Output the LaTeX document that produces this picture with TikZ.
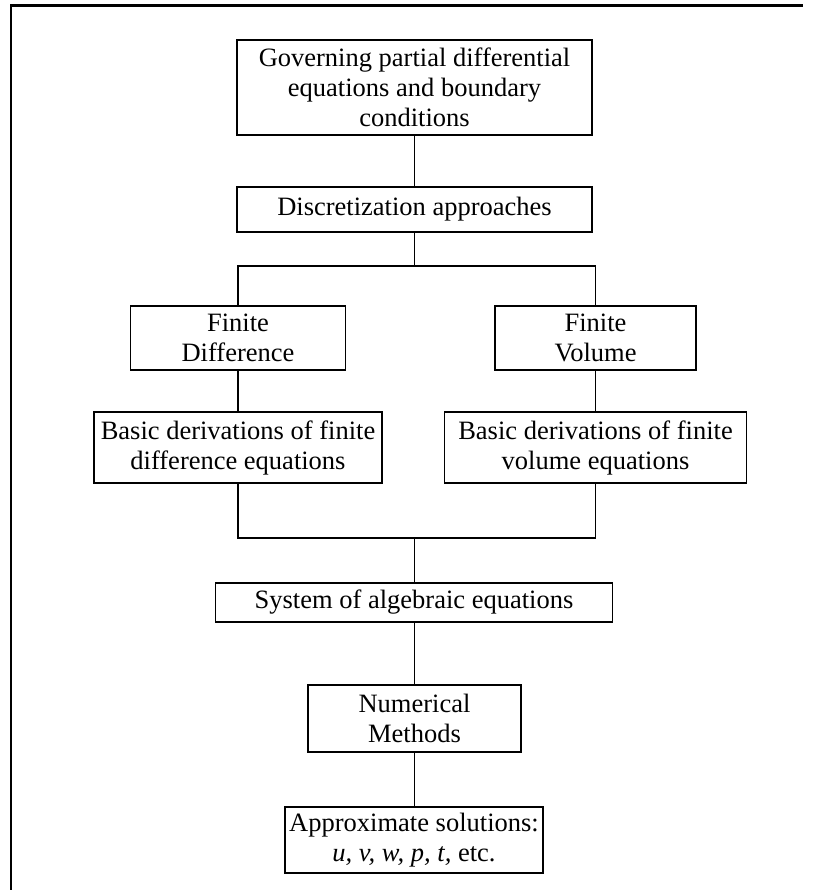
\documentclass[tikz,border=0pt]{standalone}
\usepackage{fontspec}
\setmainfont{Liberation Serif}
\begin{document}
\begin{tikzpicture}[x=1pt,y=-1pt,
  box/.style={draw=black,line width=1.9pt,rectangle,inner sep=0pt,align=center,
    font=\fontsize{26.5}{30}\selectfont},
  conn/.style={line width=1.9pt},
  frame/.style={line width=2.6pt}]
\useasboundingbox (0,0) rectangle (812,890);
% outer frame (top and left edges only)
\coordinate (fbl) at (11,890);
\coordinate (ftl) at (11,5.7);
\coordinate (ftr) at (803,5.7);
\draw[frame] (fbl) -- (ftl) -- (ftr);
% nodes
\node[box,minimum width=355pt,minimum height=95pt] (gov) at (414.5,87.5)
  {Governing partial differential\\equations and boundary\\conditions};
\node[box,minimum width=355pt,minimum height=45pt] (disc) at (414.5,209.5)
  {Discretization approaches};
\node[box,minimum width=215pt,minimum height=64pt] (fd) at (238,338)
  {Finite\\Difference};
\node[box,minimum width=201pt,minimum height=64pt] (fv) at (595.5,338)
  {Finite\\Volume};
\node[box,minimum width=288pt,minimum height=71pt] (bfd) at (238,447.5)
  {Basic derivations of finite\\difference equations};
\node[box,minimum width=302pt,minimum height=71pt] (bfv) at (595.5,447.5)
  {Basic derivations of finite\\volume equations};
\node[box,minimum width=397pt,minimum height=39pt] (sys) at (414,602.5)
  {System of algebraic equations};
\node[box,minimum width=213pt,minimum height=67pt] (num) at (414.5,718.5)
  {Numerical\\Methods};
\node[box,minimum width=258pt,minimum height=66pt] (app) at (414,840)
  {Approximate solutions:\\\textit{u, v, w, p, t,} etc.};
\coordinate (j1) at (414.5,266);
\coordinate (j2) at (414.5,538);
% connectors
\draw[conn] (gov.south) -- (disc.north);
\draw[conn] (disc.south) -- (j1);
\draw[conn] (fd.north) |- (j1);
\draw[conn] (fv.north) |- (j1);
\draw[conn] (fd.south) -- (bfd.north);
\draw[conn] (fv.south) -- (bfv.north);
\draw[conn] (bfd.south) |- (j2);
\draw[conn] (bfv.south) |- (j2);
\draw[conn] (j2) -- (sys.north -| j2);
\draw[conn] (sys.south -| j2) -- (num.north -| j2);
\draw[conn] (num.south -| j2) -- (app.north -| j2);
\end{tikzpicture}
\end{document}
